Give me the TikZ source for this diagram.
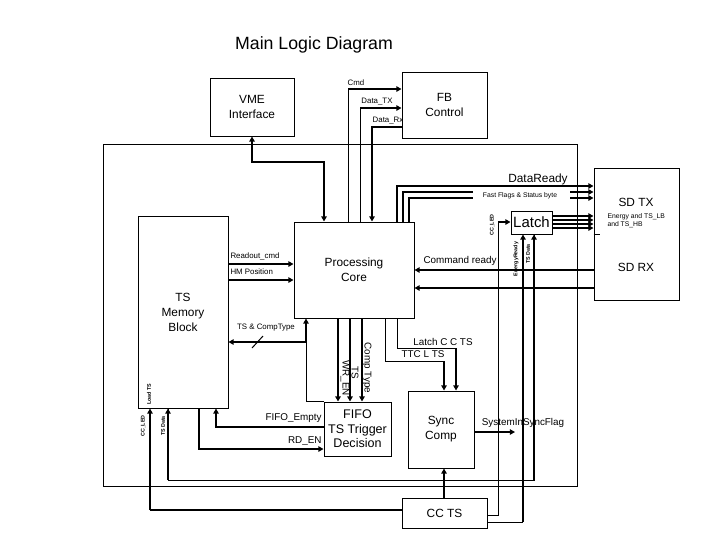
\documentclass[tikz,border=0pt]{standalone}
\usepackage{fontspec}
\setmainfont{Liberation Sans}
\usetikzlibrary{arrows.meta}

\begin{document}
\begin{tikzpicture}[x=0.75pt,y=-0.75pt,line width=0.75pt,
		>={Triangle[length=3.8pt,width=4pt]},
		box/.style={draw,inner sep=0pt,align=center,font=\fontsize{8.9}{11.3}\selectfont},
		bus/.style={line width=1.5pt},
		mid/.style={line width=1.1pt},
		lbl/.style={inner sep=0pt,font=\fontsize{7.4}{9}\selectfont},
		sml/.style={inner sep=0pt,font=\fontsize{5.9}{7}\selectfont},
		xs/.style={inner sep=0pt,font=\fontsize{5.1}{6.2}\selectfont},
		tny/.style={inner sep=0pt,font=\bfseries\fontsize{4}{5}\selectfont}]
			\useasboundingbox (0,0) rectangle (720,540);
			\node[font=\fontsize{13.3}{16}\selectfont] (title) at (314,45) {Main Logic Diagram};
			% blocks
			\draw (103,144) rectangle (577,486);
			\node[box,minimum width=63pt,minimum height=43.5pt] (vme) at (252,107) {VME\\Interface};
			\node[box,minimum width=63.75pt,minimum height=49.5pt] (fb) at (444.5,105) {FB\\Control};
			\node[box,minimum width=90pt,minimum height=72pt] (core) at (354,270) {Processing\\Core};
			\node[box,minimum width=67.5pt,minimum height=144pt] (mem) at (183,312) {TS\\Memory\\Block};
			\node[box,minimum width=30.75pt,minimum height=17.25pt,font=\fontsize{11.2}{13}\selectfont] (latch) at (531.5,222.5) {Latch};
			\node[box,minimum width=63.75pt,minimum height=99pt] (sd) at (636.5,234) {};
			\node[box,minimum width=50.25pt,minimum height=40.5pt,font=\fontsize{9.4}{10.9}\selectfont] (fifo) at (357.5,429) {FIFO\\TS Trigger\\Decision};
			\node[box,minimum width=49.5pt,minimum height=57.75pt] (sync) at (441,429.5) {Sync\\Comp};
			\node[box,minimum width=63.75pt,minimum height=22.5pt] (ccts) at (444.5,513) {CC TS};
			\node[box,draw=none] (sdtx) at (636,202) {SD TX};
			\node[box,draw=none] (sdrx) at (636,267) {SD RX};
			\node[xs,align=left,anchor=west] (energy) at (607,221) {Energy and TS\_LB\\and TS\_HB};
			% VME and FB control
			\draw[bus,<->] (vme.south) |- (324,162) -- (core.north -| 324,0);
			\draw (core.north -| 348,0) -- (348,89);
			\draw[bus,->] (348,89) -- (fb.west |- 0,89);
			\draw (core.north -| 360,0) -- (360,108);
			\draw[bus,->] (360,108) -- (fb.west |- 0,108);
			\draw[bus,->] (fb.west |- 0,127) -| (core.north -| 372,0);
			\node[sml] (cmd) at (356,83) {Cmd};
			\node[sml] (datatx) at (377,102) {Data\_TX};
			\node[sml] (datarx) at (388,121) {Data\_Rx};
			% status to SD TX
			\draw[bus,->] (core.north -| 397,0) |- (sd.west |- 0,186);
			\node[inner sep=0pt,font=\fontsize{8.9}{10}\selectfont] (ready) at (538,179) {DataReady};
			\draw[bus] (core.north -| 403,0) |- (473,192);
			\draw[bus] (core.north -| 409,0) |- (473,198);
			\node[xs] (flags) at (520,195.5) {Fast Flags \& Status byte};
			\draw[bus,->] (570,192) -- (sd.west |- 0,192);
			\draw[bus,->] (570,198) -- (sd.west |- 0,198);
			\foreach \y in {216,220,224,228}
				\draw[bus,->] (latch.east |- 0,\y) -- (sd.west |- 0,\y);
			\draw (sd.west |- 0,234) -- ++(6,0);
			% CC TS up to the latch
			\draw (ccts.east |- 0,515) -| (498,222);
			\draw[bus,->] (498,222) -- (latch.west |- 0,222);
			\draw (ccts.east |- 0,522) -- (523,522);
			\draw[bus,->] (523,522) -- (latch.south -| 523,0);
			\draw (mem.south -| 168,0) |- (534,480) -- (latch.south -| 534,0);
			\draw[bus,->] (534,480) -- (latch.south -| 534,0);
			\draw[bus,->] (168,480) -- (mem.south -| 168,0);
			\draw[mid] (ccts.west |- 0,510) -- (150,510);
			\draw[bus,->] (150,510) -- (mem.south -| 150,0);
			\node[tny,rotate=90] (ledl) at (492,225) {CC\_LED};
			\node[tny,rotate=90] (enrdy) at (516,259) {EnergyReady};
			\node[tny,rotate=90] (tsdl) at (528,254) {TS Data};
			\node[tny,rotate=90] (load) at (149,394) {Load TS};
			\node[tny,rotate=90] (ledm) at (143,426) {CC\_LED};
			\node[tny,rotate=90] (tsdm) at (163,426) {TS Data};
			% sync
			\draw (core.south -| 385,0) |- (444,361);
			\draw[bus,->] (444,361) -- (sync.north -| 444,0);
			\draw (core.south -| 397,0) |- (456,348);
			\draw[bus,->] (456,348) -- (sync.north -| 456,0);
			\node[lbl] (lcc) at (443,342) {Latch C C TS};
			\node[lbl] (ttc) at (423,354) {TTC L TS};
			\draw[bus,->] (ccts.north -| 444,0) -- (sync.south -| 444,0);
			\coordinate (flagout) at (515,432);
			\draw[bus,->] (sync.east |- flagout) -- (flagout);
			\node[lbl] (insync) at (523,423) {SystemInSyncFlag};
			% core to fifo
			\foreach \x in {338,350,362}
				\draw[bus,->] (core.south -| \x,0) -- (fifo.north -| \x,0);
			\node[lbl,rotate=-90] (ctype) at (367,368) {Comp Type};
			\node[lbl,rotate=-90] (ts) at (355,373) {TS};
			\node[lbl,rotate=-90] (wren) at (345,378) {WR\_EN};
			% fifo back to core and memory
			\draw (fifo.north west) -| (306,342);
			\draw[bus,->] (306,342) -- (core.south -| 306,0);
			\draw[bus,->] (306,342) -- (mem.east |- 0,342);
			\draw (252,348) -- (263,336);
			\node[sml] (tsct) at (266,328) {TS \& CompType};
			\draw[mid,->] (fifo.west |- 0,427) -| (mem.south -| 216,0);
			\draw[mid,->] (mem.south -| 199,0) |- (fifo.west |- 0,449);
			\node[lbl,anchor=east] (empty) at (322,418) {FIFO\_Empty};
			\node[lbl,anchor=east] (rden) at (322,441) {RD\_EN};
			% memory to core
			\draw[mid,->] (mem.east |- 0,264) -- (core.west |- 0,264);
			\draw[mid,->] (mem.east |- 0,280) -- (core.west |- 0,280);
			\node[sml,anchor=west] (rdout) at (230,256) {Readout\_cmd};
			\node[sml,anchor=west] (hmpos) at (230,272) {HM Position};
			% SD RX back to core
			\draw[bus,->] (sd.west |- 0,270) -- (core.east |- 0,270);
			\draw[bus,->] (sd.west |- 0,288) -- (core.east |- 0,288);
			\node[lbl] (cmdrdy) at (460,261) {Command ready};
		\end{tikzpicture}
\end{document}
